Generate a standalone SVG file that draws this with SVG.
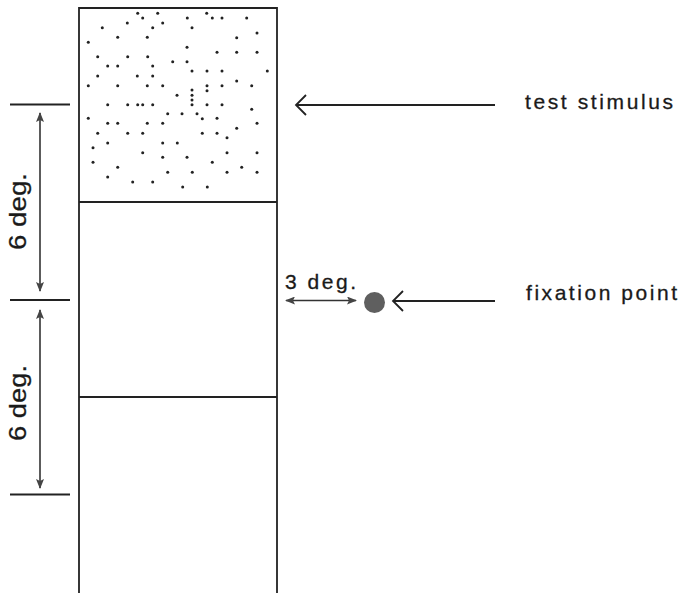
<svg xmlns="http://www.w3.org/2000/svg" width="678" height="593" viewBox="0 0 678 593">
<defs>
<style>
.ln{stroke:#222;stroke-width:1.8;fill:none}
.dim{stroke:#333;stroke-width:1.6;fill:none;marker-start:url(#head);marker-end:url(#head)}
.ptr{stroke:#222;stroke-width:1.8;fill:none;marker-end:url(#chev)}
.lbl{font-family:"Liberation Sans",Arial,sans-serif;font-size:21px;fill:#1a1a1a;stroke:#1a1a1a;stroke-width:0.3}
.dots circle{fill:#222}
</style>
<marker id="head" viewBox="0 0 10 8" refX="9" refY="4" markerWidth="10" markerHeight="8" markerUnits="userSpaceOnUse" orient="auto-start-reverse">
<path d="M0,0 L10,4 L0,8 L2,4 z" fill="#444"/>
</marker>
<marker id="chev" viewBox="-1 -1 13 23" refX="10" refY="10" markerWidth="13" markerHeight="23" markerUnits="userSpaceOnUse" orient="auto">
<path d="M0,0 L10,10 L0,20" fill="none" stroke="#222" stroke-width="1.8"/>
</marker>
</defs>
<rect width="678" height="593" fill="#fff"/>

<g id="column">
<path class="ln" d="M79,600 V8 H277 V600"/>
<line class="ln" x1="79" y1="202" x2="277" y2="202"/>
<line class="ln" x1="79" y1="397" x2="277" y2="397"/>
</g>

<g id="test-stimulus-field" class="dots">
<circle cx="137.7" cy="13.3" r="1.5"/><circle cx="157.7" cy="13.3" r="1.5"/><circle cx="206.7" cy="13.3" r="1.5"/>
<circle cx="142.7" cy="18" r="1.5"/><circle cx="187.3" cy="18" r="1.5"/><circle cx="212.3" cy="18" r="1.5"/><circle cx="222" cy="18" r="1.5"/><circle cx="246.7" cy="18" r="1.5"/>
<circle cx="127.3" cy="23" r="1.5"/><circle cx="162.7" cy="23" r="1.5"/>
<circle cx="102.3" cy="27.7" r="1.5"/><circle cx="152.7" cy="27.7" r="1.5"/><circle cx="192" cy="27.7" r="1.5"/>
<circle cx="257" cy="33" r="1.5"/>
<circle cx="117.7" cy="37.3" r="1.5"/><circle cx="147.3" cy="37.3" r="1.5"/><circle cx="236.7" cy="37.7" r="1.5"/>
<circle cx="88.3" cy="42.3" r="1.5"/>
<circle cx="187" cy="47.3" r="1.5"/>
<circle cx="217" cy="52.3" r="1.5"/><circle cx="236.7" cy="52.3" r="1.5"/><circle cx="257" cy="52.3" r="1.5"/>
<circle cx="97.7" cy="56.7" r="1.5"/><circle cx="127.7" cy="56.7" r="1.5"/><circle cx="147.7" cy="56.7" r="1.5"/>
<circle cx="172.7" cy="61.7" r="1.5"/><circle cx="187" cy="61.7" r="1.5"/>
<circle cx="107.7" cy="66" r="1.5"/><circle cx="117.7" cy="66" r="1.5"/><circle cx="152.7" cy="66" r="1.5"/>
<circle cx="192" cy="71" r="1.5"/><circle cx="207" cy="71" r="1.5"/><circle cx="222" cy="71" r="1.5"/><circle cx="267.3" cy="71" r="1.5"/>
<circle cx="97.7" cy="76" r="1.5"/><circle cx="137.3" cy="76" r="1.5"/><circle cx="152.7" cy="76" r="1.5"/>
<circle cx="236.7" cy="81" r="1.5"/>
<circle cx="88.3" cy="85.7" r="1.5"/><circle cx="117.7" cy="85.7" r="1.5"/><circle cx="147.3" cy="85.7" r="1.5"/><circle cx="162.7" cy="85.7" r="1.5"/><circle cx="207" cy="85.7" r="1.5"/><circle cx="222" cy="85.7" r="1.5"/><circle cx="251.7" cy="85.7" r="1.5"/>
<circle cx="192" cy="90" r="1.5"/><circle cx="207" cy="90.7" r="1.5"/>
<circle cx="177" cy="95.3" r="1.5"/><circle cx="192" cy="95.3" r="1.5"/>
<circle cx="192" cy="100" r="1.5"/>
<circle cx="107.7" cy="104.7" r="1.5"/><circle cx="127.7" cy="104.7" r="1.5"/><circle cx="137.7" cy="104.7" r="1.5"/><circle cx="142.7" cy="104.7" r="1.5"/><circle cx="152.7" cy="104.7" r="1.5"/><circle cx="192" cy="104.7" r="1.5"/><circle cx="207" cy="104.7" r="1.5"/><circle cx="222" cy="104.7" r="1.5"/>
<circle cx="251.7" cy="109.3" r="1.5"/>
<circle cx="167.7" cy="113.7" r="1.5"/><circle cx="182" cy="113.7" r="1.5"/><circle cx="197" cy="113.7" r="1.5"/>
<circle cx="88.3" cy="118.3" r="1.5"/><circle cx="202.3" cy="118.7" r="1.5"/><circle cx="217" cy="118.3" r="1.5"/>
<circle cx="107.7" cy="123.3" r="1.5"/><circle cx="117.7" cy="123.3" r="1.5"/><circle cx="147.3" cy="123.3" r="1.5"/><circle cx="162.7" cy="123.3" r="1.5"/><circle cx="257" cy="123.3" r="1.5"/>
<circle cx="236.7" cy="128.3" r="1.5"/>
<circle cx="97.7" cy="133.3" r="1.5"/><circle cx="127.7" cy="133.3" r="1.5"/><circle cx="142.7" cy="133.3" r="1.5"/><circle cx="202.3" cy="133.3" r="1.5"/><circle cx="217" cy="133.3" r="1.5"/>
<circle cx="227" cy="137.7" r="1.5"/>
<circle cx="107.7" cy="143" r="1.5"/><circle cx="162.7" cy="143" r="1.5"/><circle cx="177.3" cy="143" r="1.5"/>
<circle cx="93" cy="147.7" r="1.5"/>
<circle cx="142.7" cy="152.7" r="1.5"/><circle cx="227" cy="152.7" r="1.5"/><circle cx="257" cy="152.7" r="1.5"/>
<circle cx="162.7" cy="157.3" r="1.5"/><circle cx="187" cy="157.3" r="1.5"/>
<circle cx="93" cy="162.3" r="1.5"/><circle cx="212.3" cy="162.3" r="1.5"/>
<circle cx="117.7" cy="167.3" r="1.5"/><circle cx="241.7" cy="167.3" r="1.5"/>
<circle cx="167.7" cy="172.3" r="1.5"/><circle cx="192.3" cy="172.3" r="1.5"/><circle cx="227" cy="172.3" r="1.5"/><circle cx="257" cy="172.3" r="1.5"/>
<circle cx="107.7" cy="177" r="1.5"/>
<circle cx="132.7" cy="182" r="1.5"/><circle cx="152.7" cy="182" r="1.5"/>
<circle cx="182.7" cy="187" r="1.5"/><circle cx="207.3" cy="187" r="1.5"/>
</g>

<g id="scale-ticks">
<line class="ln" x1="10" y1="104.5" x2="70" y2="104.5"/>
<line class="ln" x1="10" y1="300" x2="70" y2="300"/>
<line class="ln" x1="10" y1="494.5" x2="70" y2="494.5"/>
</g>

<g id="fixation-dot">
<circle cx="374.5" cy="302.5" r="10.5" fill="#5f5f5f"/>
</g>

<g id="label-test-stimulus">
<text class="lbl" x="525" y="109" textLength="148" lengthAdjust="spacing">test stimulus</text>
</g>
<g id="label-fixation-point">
<text class="lbl" x="526" y="300" textLength="151" lengthAdjust="spacing">fixation point</text>
</g>
<g id="label-3deg">
<text class="lbl" x="285" y="288.5" textLength="71" lengthAdjust="spacing">3 deg.</text>
</g>
<g id="label-6deg-upper">
<text class="lbl" transform="translate(25.5,250) rotate(-90)" style="font-size:24px" textLength="77" lengthAdjust="spacingAndGlyphs">6 deg.</text>
</g>
<g id="label-6deg-lower">
<text class="lbl" transform="translate(25.5,441) rotate(-90)" style="font-size:24px" textLength="76" lengthAdjust="spacingAndGlyphs">6 deg.</text>
</g>

<g id="connectors">
<line class="dim" x1="40" y1="113" x2="40" y2="291"/>
<line class="dim" x1="40" y1="310" x2="40" y2="488"/>
<line class="dim" x1="286" y1="300.5" x2="356" y2="300.5"/>
<line class="ptr" x1="495" y1="105" x2="296" y2="105"/>
<line class="ptr" x1="495" y1="301" x2="393" y2="301"/>
</g>
</svg>
